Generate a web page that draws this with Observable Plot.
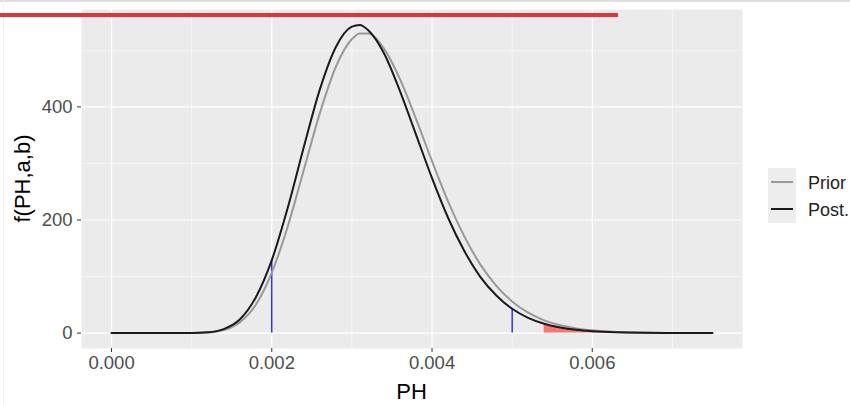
<!DOCTYPE html>
<html>
<head>
<meta charset="utf-8">
<script src="https://cdn.jsdelivr.net/npm/d3@7"></script>
<script src="https://cdn.jsdelivr.net/npm/@observablehq/plot@0.6"></script>
<style>
  html, body { margin: 0; padding: 0; background: #fff; }
  #wrap { position: relative; width: 850px; height: 405px; overflow: hidden; font-family: "Liberation Sans", Arial, sans-serif; }
  #topline { position: absolute; left: 0; top: 0; width: 850px; height: 2px; background: #dedede; }
  #leftline { position: absolute; left: 3px; top: 0; width: 1px; height: 405px; background: #f0f0f0; }
  #redline { position: absolute; left: 0; top: 13px; width: 618px; height: 4px; background: #d9363e; }
</style>
</head>
<body>
<div id="wrap">
  <div id="chart"></div>
  <div id="topline"></div>
  <div id="leftline"></div>
  <div id="redline"></div>
</div>
<script>
// ---- data ----
const phValues = [0, 0.0005, 0.0010, 0.0012, 0.0014, 0.0016, 0.0018, 0.0020, 0.0022, 0.0024,
  0.0026, 0.0028, 0.0030, 0.0031, 0.0032, 0.0034, 0.0036, 0.0038, 0.0040, 0.0042,
  0.0044, 0.0046, 0.0048, 0.0050, 0.0052, 0.0054, 0.0056, 0.0058, 0.0060, 0.0063,
  0.0066, 0.0070, 0.0075];
const postValues = [0, 0, 0.2, 1.4, 7.1, 24, 63, 129, 222, 329,
  431, 506, 542, 545, 536, 495, 428, 351, 274, 204,
  146, 100, 67, 43, 27, 16.5, 9.8, 5.7, 3.3, 1.4,
  0.5, 0.15, 0];
const priorValues = [0, 0, 0.1, 1.0, 5.4, 19, 50, 107, 189, 289,
  389, 471, 520, 530, 530, 503, 449, 379, 304, 233,
  172, 122, 84, 56, 36, 22.6, 13.9, 8.3, 4.9, 2.1,
  0.9, 0.26, 0];
const seriesNames = ["Prior", "Post."];
const markerX = [0.002, 0.005];
const markerY = [129, 43];
const shadeFrom = 0.0054;
const xMajor = [0, 0.002, 0.004, 0.006];
const xMinor = [0.001, 0.003, 0.005, 0.007];
const yMajor = [0, 200, 400];
const yMinor = [100, 300, 500];

// ---- tables built from the arrays ----
const post = phValues.map((x, i) => ({x, y: postValues[i]}));
const prior = phValues.map((x, i) => ({x, y: priorValues[i]}));
const shade = post.filter(d => d.x >= shadeFrom);
const markers = markerX.map((x, i) => ({x, y: markerY[i]}));

const xMin = 0, xMax = 0.0075, yMax = 545;
const xPad = (xMax - xMin) * 0.05, yPad = yMax * 0.05;

const plot = Plot.plot({
  width: 850,
  height: 405,
  marginLeft: 81,
  marginRight: 108,
  marginTop: 9,
  marginBottom: 57,
  style: {fontFamily: "'Liberation Sans', Arial, sans-serif", background: "transparent"},
  x: {domain: [xMin - xPad, xMax + xPad]},
  y: {domain: [-yPad, yMax + yPad]},
  marks: [
    Plot.frame({fill: "#ebebeb", stroke: null}),
    Plot.ruleX(xMinor, {stroke: "#ffffff", strokeWidth: 0.6}),
    Plot.ruleY(yMinor, {stroke: "#ffffff", strokeWidth: 0.6}),
    Plot.ruleX(xMajor, {stroke: "#ffffff", strokeWidth: 1.2}),
    Plot.ruleY(yMajor, {stroke: "#ffffff", strokeWidth: 1.2}),
    Plot.areaY(shade, {x: "x", y: "y", fill: "#f8766d", curve: "monotone-x"}),
    Plot.ruleX(markers, {x: "x", y1: 0, y2: "y", stroke: "#0000ff", strokeWidth: 1.2}),
    Plot.line(prior, {x: "x", y: "y", stroke: "#999999", strokeWidth: 2, curve: "monotone-x"}),
    Plot.line(post, {x: "x", y: "y", stroke: "#1a1a1a", strokeWidth: 2, curve: "monotone-x"}),
    Plot.axisX({ticks: xMajor, tickFormat: d3.format(".3f"), tickSize: 4, tickPadding: 3,
      fontSize: 18.5, label: null, stroke: "#333333", fill: "#4d4d4d"}),
    Plot.axisY({ticks: yMajor, tickFormat: d3.format("d"), tickSize: 4, tickPadding: 5,
      fontSize: 18.5, label: null, stroke: "#333333", fill: "#4d4d4d"})
  ]
});

document.getElementById("chart").appendChild(plot);

const svg = d3.select(plot);
// axis titles
svg.append("text")
  .attr("x", 411.5).attr("y", 399)
  .attr("text-anchor", "middle")
  .attr("font-size", 22).attr("fill", "#000")
  .text("PH");
svg.append("text")
  .attr("transform", "translate(30,178.5) rotate(-90)")
  .attr("text-anchor", "middle")
  .attr("font-size", 22).attr("fill", "#000")
  .text("f(PH,a,b)");

// legend
const lg = svg.append("g");
lg.append("rect").attr("x", 768).attr("y", 168).attr("width", 28).attr("height", 55).attr("fill", "#ededed");
const legendColors = ["#999999", "#1a1a1a"];
const legendY = [182, 209];
seriesNames.forEach((name, i) => {
  lg.append("line")
    .attr("x1", 771).attr("x2", 793)
    .attr("y1", legendY[i]).attr("y2", legendY[i])
    .attr("stroke", legendColors[i]).attr("stroke-width", 2);
  lg.append("text")
    .attr("x", 808).attr("y", legendY[i] + 7)
    .attr("text-anchor", "start")
    .attr("font-size", 18).attr("fill", "#222")
    .text(name);
});
</script>
</body>
</html>
